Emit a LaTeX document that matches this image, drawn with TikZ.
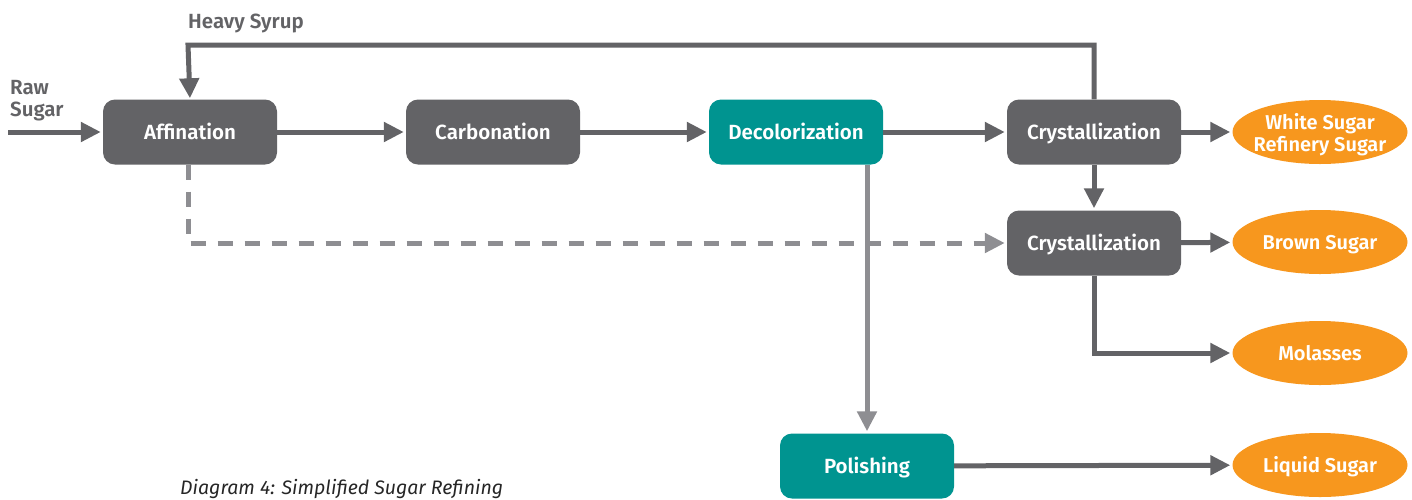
\documentclass[tikz,border=0pt]{standalone}
\usepackage{fontspec}
\setmainfont{Fira Sans}[BoldFont={Fira Sans SemiBold}]
\usetikzlibrary{arrows.meta,shapes.geometric}
\definecolor{dgray}{HTML}{636366}
\definecolor{lgray}{HTML}{8E8E92}
\definecolor{teal2}{HTML}{009490}
\definecolor{orng}{HTML}{F7971E}
\begin{document}
\begin{tikzpicture}[x=1pt,y=-1pt,
  box/.style={rounded corners=12pt,minimum width=174pt,minimum height=65pt,inner sep=0pt,text=white,text height=14pt,text depth=0pt,font=\fontsize{20.5}{22}\selectfont\bfseries},
  graybox/.style={box,fill=dgray},
  tealbox/.style={box,fill=teal2},
  prodtext/.style={inner sep=0pt,text=white,align=center,font=\fontsize{20}{22}\selectfont\bfseries},
  prod/.style={ellipse,fill=orng,minimum width=175pt,minimum height=64pt,prodtext},
  prod1/.style={prod,text height=14pt,text depth=0pt},
  flow/.style={line width=5pt,draw=dgray,-{Triangle[length=20pt,width=19pt]},shorten >=2pt},
  lflow/.style={line width=5pt,draw=lgray,-{Triangle[length=20pt,width=19pt]},shorten >=2pt},
  lbl/.style={text=dgray,font=\fontsize{20.5}{22}\selectfont\bfseries,inner sep=0pt}]
\useasboundingbox (0,0) rectangle (1412,499);
\node[graybox] (aff) at (190,132) {Affination};
\node[graybox] (carb) at (493,132) {Carbonation};
\node[tealbox] (dec) at (796,132) {Decolorization};
\node[graybox] (c1) at (1094,132) {Crystallization};
\node[graybox] (c2) at (1094,243) {Crystallization};
\node[tealbox] (pol) at (867,466) {Polishing};
\node[prod] (ws) at (1320,132) {};
\node[prodtext] (wst) at (1320,135) {White Sugar\\Refinery Sugar};
\node[prod1] (bs) at (1320,242) {Brown Sugar};
\node[prod1] (mol) at (1320,353) {Molasses};
\node[prod1] (liq) at (1320,465) {Liquid Sugar};
\node[lbl,anchor=west,align=left] (raw) at (10,101) {Raw\\Sugar};
\node[lbl,anchor=west] (hsl) at (188,23) {Heavy Syrup};
\node[anchor=west,inner sep=0pt,text=black!85,font=\fontsize{19.5}{22}\selectfont\itshape] (cap) at (180,489) {Diagram 4: Simplified Sugar Refining};
\coordinate (rs) at (8,132);
\coordinate (hs) at (188,45);
\draw[flow] (rs) -- (aff.west);
\draw[flow] (aff) -- (carb);
\draw[flow] (carb) -- (dec);
\draw[flow] (dec.east) -- (c1.west);
\draw[flow] (c1) -- (ws);
\draw[flow] (c1) -- (c2);
\draw[flow] (c2) -- (bs);
\draw[flow] (c2.south) |- (mol.west);
\draw[flow] (pol) -- (liq);
\draw[flow,shorten >=1pt] (c1.north) |- (hs) -- (aff.north);
\draw[lflow] (pol.north |- dec.south) -- (pol.north);
\draw[lflow,dash pattern=on 15pt off 12pt] (aff.south -| hs) |- (c2.west);
\end{tikzpicture}
\end{document}
